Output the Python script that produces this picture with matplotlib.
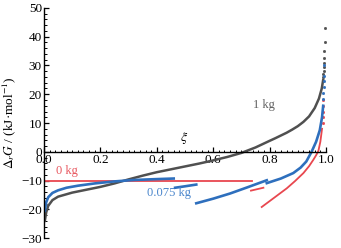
import matplotlib
matplotlib.use('Agg')
import matplotlib.pyplot as plt
from matplotlib.ticker import MultipleLocator

plt.rcParams['font.family'] = ['Liberation Serif', 'DejaVu Serif']
plt.rcParams['mathtext.fontset'] = 'stix'

# 1 kg (gray)
xi_1kg = [0.003, 0.008, 0.015, 0.03, 0.05, 0.1, 0.15, 0.2, 0.25, 0.3, 0.35, 0.4, 0.45,
          0.5, 0.55, 0.6, 0.65, 0.7, 0.75, 0.8, 0.82, 0.86, 0.88, 0.9, 0.92, 0.94,
          0.96, 0.975, 0.985, 0.99]
G_1kg = [-24, -21, -18.8, -16.8, -15.6, -14.2, -13.2, -12.2, -11, -9.6, -8.3, -7.1, -6.1,
         -5.1, -4.1, -3.0, -1.8, -0.4, 1.5, 3.8, 4.7, 6.6, 7.7, 8.9, 10.4, 12.3,
         15.2, 18.5, 22, 25]
xi_1kg_dots = [0.9905, 0.991, 0.9915, 0.992, 0.9925, 0.993, 0.994, 0.995, 0.996]
G_1kg_dots = [26, 27, 28, 29.5, 31, 32.5, 35, 38, 43]

# 0.075 kg (blue), broken segments
xi_b1 = [0.003, 0.008, 0.015, 0.03, 0.05, 0.08, 0.12, 0.18, 0.25, 0.32, 0.4, 0.46]
G_b1 = [-20.5, -17.5, -15.8, -14.3, -13.4, -12.5, -11.8, -11.0, -10.3, -9.8, -9.5, -9.3]
xi_b2 = [0.465, 0.5, 0.54]
G_b2 = [-12.5, -12.0, -11.4]
xi_b3 = [0.54, 0.6, 0.66, 0.72, 0.79]
G_b3 = [-17.9, -16.3, -14.5, -12.4, -9.9]
xi_b4 = [0.79, 0.84, 0.884, 0.91, 0.93, 0.949, 0.965, 0.978, 0.986, 0.99]
G_b4 = [-10.9, -9.3, -7.4, -5.5, -3.4, 0, 3.5, 7.5, 12, 16]
xi_b_dots = [0.9905, 0.991, 0.9915, 0.992, 0.9925, 0.993]
G_b_dots = [18.5, 20.5, 22.5, 24.5, 26.5, 30]

# 0 kg (red), broken segments
xi_r1 = [0.0, 0.736]
G_r1 = [-10, -10]
xi_r2 = [0.734, 0.778]
G_r2 = [-13.5, -12.5]
xi_r3 = [0.772, 0.82, 0.861, 0.89, 0.92, 0.94, 0.955, 0.965, 0.973, 0.98, 0.986]
G_r3 = [-19.2, -15.7, -12.7, -10.2, -7.4, -5.0, -2.8, -1.2, 0.3, 3.5, 8]
xi_r_dots = [0.9885, 0.989, 0.9895, 0.990, 0.9905]
G_r_dots = [10, 12, 14, 16, 18]

gray = '#505050'
blue = '#2e6fbd'
red = '#e8474f'

fig = plt.figure(figsize=(3.41, 2.48), dpi=100)
ax = fig.add_axes([0.129, 0.04, 0.827, 0.928])

ax.plot(xi_r1, G_r1, c=red, lw=1.3)
ax.plot(xi_r2, G_r2, c=red, lw=1.3)
ax.plot(xi_r3, G_r3, c=red, lw=1.3)
ax.plot(xi_r_dots, G_r_dots, ls='none', marker='s', ms=1.0, c=red)

ax.plot(xi_1kg, G_1kg, c=gray, lw=1.8)
ax.plot(xi_1kg_dots, G_1kg_dots, ls='none', marker='s', ms=1.0, c=gray)

ax.plot(xi_b1, G_b1, c=blue, lw=1.9)
ax.plot(xi_b2, G_b2, c=blue, lw=1.9)
ax.plot(xi_b3, G_b3, c=blue, lw=1.9)
ax.plot(xi_b4, G_b4, c=blue, lw=1.9)
ax.plot(xi_b_dots, G_b_dots, ls='none', marker='s', ms=1.0, c=blue)

ax.text(0.78, 16.2, '1 kg', color='#606060', fontsize=9, ha='center', va='center')
ax.text(0.082, -6.7, '0 kg', color='#e8575f', fontsize=9, ha='center', va='center')
ax.text(0.443, -14.4, '0.075 kg', color='#4a86cc', fontsize=9, ha='center', va='center')
ax.text(0.496, 4.8, r'$\xi$', fontsize=10, ha='center', va='center')

ax.set_xlim(0, 1)
ax.set_ylim(-30, 50)
ax.spines['top'].set_visible(False)
ax.spines['right'].set_visible(False)
ax.spines['bottom'].set_position(('data', 0))
ax.spines['left'].set_linewidth(1.0)
ax.spines['bottom'].set_linewidth(1.0)

ax.xaxis.set_major_locator(MultipleLocator(0.2))
ax.xaxis.set_minor_locator(MultipleLocator(0.02))
ax.yaxis.set_major_locator(MultipleLocator(10))
ax.yaxis.set_minor_locator(MultipleLocator(2))
ax.set_xticks([0, 0.2, 0.4, 0.6, 0.8, 1.0])
ax.set_xticklabels(['0.0', '0.2', '0.4', '0.6', '0.8', '1.0'])
ax.tick_params(which='major', direction='in', length=3.5, width=0.9, labelsize=9.5, pad=1.5)
ax.tick_params(which='minor', direction='in', length=1.8, width=0.7)

ax.set_ylabel(r'$\Delta_r G$ / (kJ·mol$^{-1}$)', fontsize=9.5, labelpad=2)

plt.savefig('out.png', dpi=100)
